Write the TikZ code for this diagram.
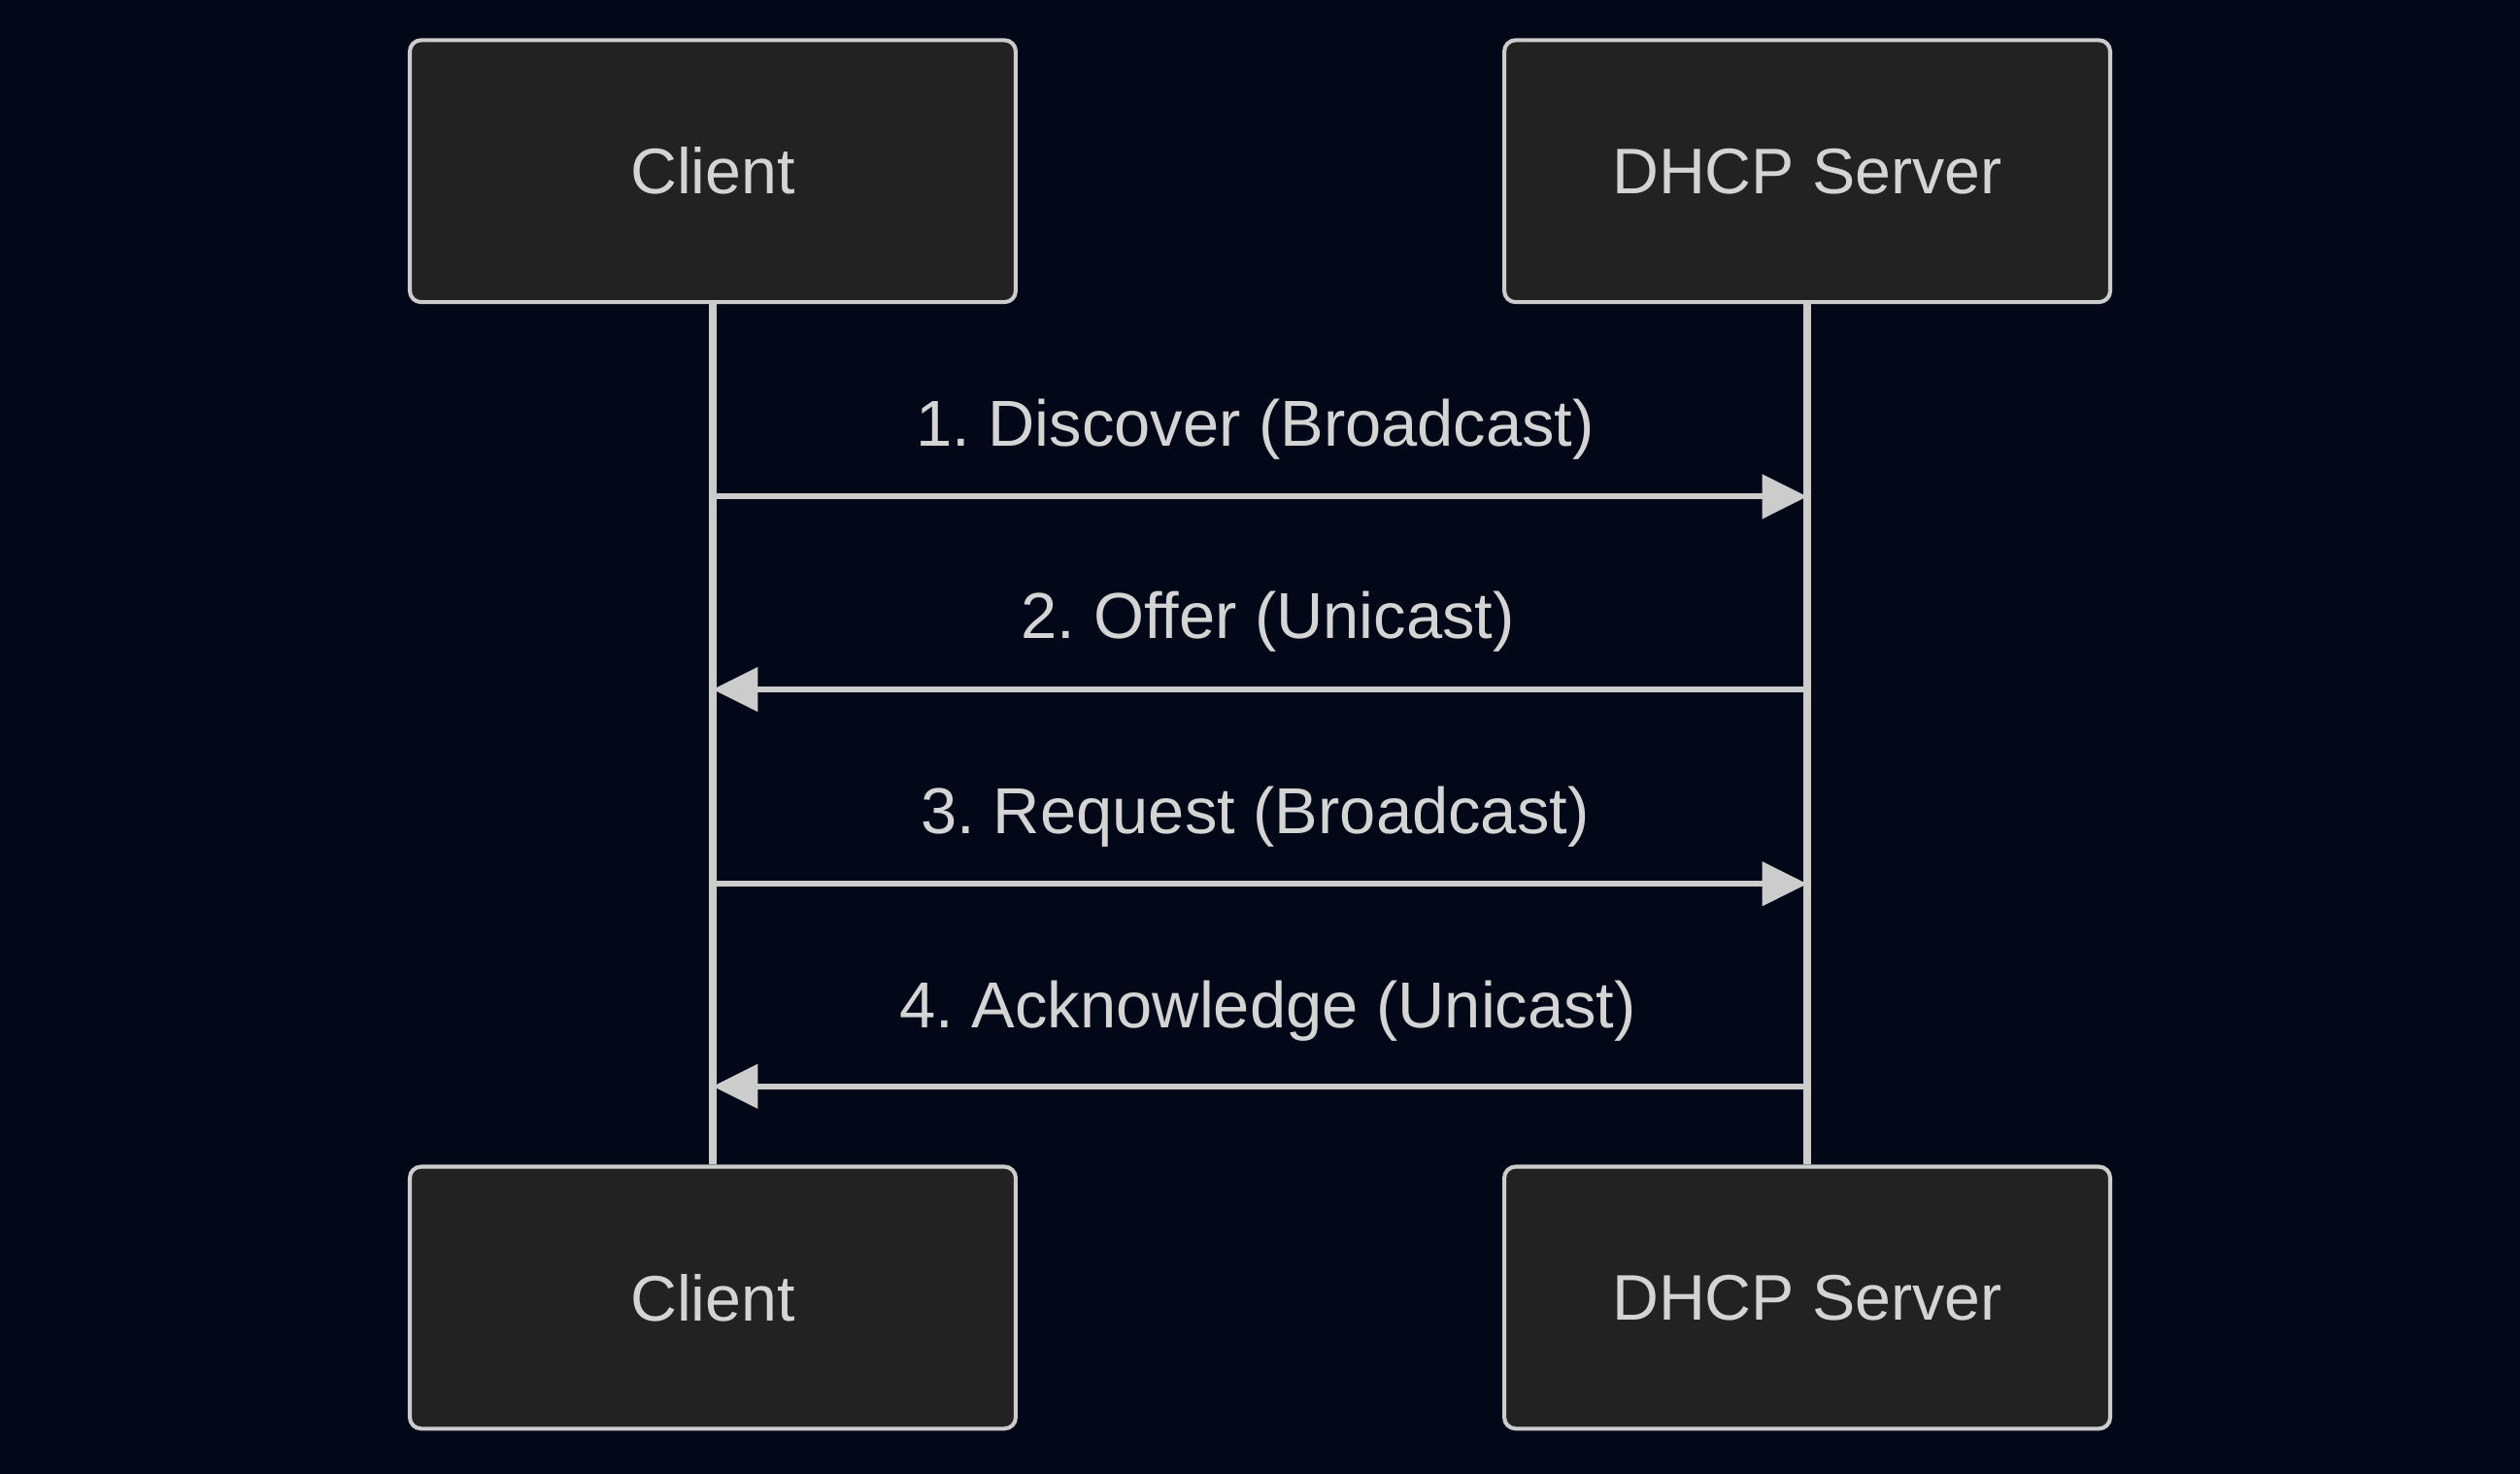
\documentclass[tikz,border=0pt]{standalone}
\usepackage{fontspec}
\setmainfont{Liberation Sans}
\frenchspacing
\usetikzlibrary{positioning, arrows.meta, calc}
\definecolor{bgnavy}{HTML}{020817}
\definecolor{boxgray}{HTML}{212221}
\definecolor{linegray}{HTML}{CCCCCC}
\definecolor{textgray}{HTML}{D4D4D4}
\tikzset{
  actor/.style={draw=linegray, fill=boxgray, line width=0.7pt, rounded corners=0.07cm,
    minimum width=3.77cm, minimum height=1.63cm, text=textgray, font=\fontsize{11.4}{13}\selectfont},
  lifeline/.style={draw=linegray, line width=1.4pt},
  msg/.style={draw=linegray, line width=1pt, -{Triangle[length=0.28cm, width=0.27cm]}},
  msglabel/.style={text=textgray, font=\fontsize{11.5}{13}\selectfont, midway}
}

\begin{document}
\begin{tikzpicture}
      \fill[bgnavy] (0,0) rectangle (15.68,9.17);
      \node[actor] (clientTop) at (4.435,8.105) {Client};
      \node[actor] (serverTop) at (11.245,8.105) {DHCP Server};
      \node[actor] (clientBot) at (4.435,1.095) {Client};
      \node[actor] (serverBot) at (11.245,1.095) {DHCP Server};
      \draw[lifeline] (clientTop) -- (clientBot);
      \draw[lifeline] (serverTop) -- (serverBot);
      \draw[msg] (clientTop.south |- 0,6.08) -- (serverTop.south |- 0,6.08)
        node[msglabel, xshift=-0.03cm, yshift=0.42cm] {1. Discover (Broadcast)};
      \draw[msg] (serverTop.south |- 0,4.88) -- (clientTop.south |- 0,4.88)
        node[msglabel, xshift=0.05cm, yshift=0.42cm] {2. Offer (Unicast)};
      \draw[msg] (clientTop.south |- 0,3.67) -- (serverTop.south |- 0,3.67)
        node[msglabel, xshift=-0.03cm, yshift=0.42cm] {3. Request (Broadcast)};
      \draw[msg] (serverTop.south |- 0,2.41) -- (clientTop.south |- 0,2.41)
        node[msglabel, xshift=0.05cm, yshift=0.47cm] {4. Acknowledge (Unicast)};
    \end{tikzpicture}
\end{document}
